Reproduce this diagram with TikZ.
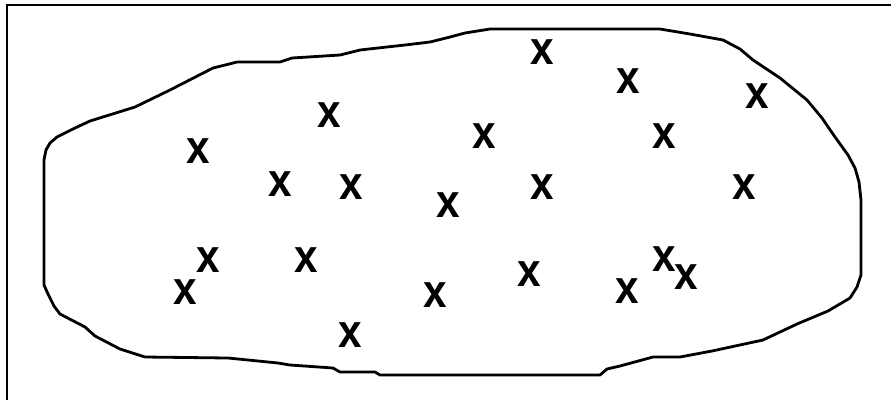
\documentclass[tikz,border=0pt]{standalone}
\usepackage{fontspec}
\setmainfont{Liberation Sans}
\begin{document}
\begin{tikzpicture}[x=1pt,y=-1pt,
  xmark/.style={inner sep=0pt,font=\fontsize{47}{47}\selectfont\bfseries,xscale=0.9},
  frame/.style={line width=2pt},
  blob/.style={line width=2.8pt,line join=round}]
\useasboundingbox (0,0) rectangle (891,400);
\draw[frame] (7,400) -- (7,4.5) -- (891,4.5);
\draw[blob] plot coordinates {
(44,160) (46,150) (50,143) (57,137) (75,128) (90,121) (135,107) (170,90) (213,68) (237,62) (280,62)
(292,58) (340,55) (360,50) (405,45) (430,42) (450,37) (465,33) (490,29) (660,29)
(690,34) (723,40) (740,49) (753,60) (780,78) (807,100) (822,118) (835,137) (848,155) (855,168) (859,182) (861,200)
(861,275) (857,287) (850,298) (828,311) (797,324) (763,340) (712,351) (680,357) (653,357)
(620,366) (607,369) (600,375) (380,375) (375,372) (340,372) (333,368) (290,365)
(278,363) (228,358) (145,357) (120,349) (95,336) (85,327) (60,314) (54,306) (48,294) (44,285)} -- cycle;
\node[xmark] (x1) at (542,52) {x};
\node[xmark] (x2) at (628,81) {x};
\node[xmark] (x3) at (757,96) {x};
\node[xmark] (x4) at (329,115) {x};
\node[xmark] (x5) at (484,136) {x};
\node[xmark] (x6) at (664,136) {x};
\node[xmark] (x7) at (198,151) {x};
\node[xmark] (x8) at (280,184) {x};
\node[xmark] (x9) at (351,187) {x};
\node[xmark] (x10) at (542,187) {x};
\node[xmark] (x11) at (744,187) {x};
\node[xmark] (x12) at (448,205) {x};
\node[xmark] (x13) at (208,260) {x};
\node[xmark] (x14) at (306,260) {x};
\node[xmark] (x15) at (664,259) {x};
\node[xmark] (x16) at (686,277) {x};
\node[xmark] (x17) at (529,274) {x};
\node[xmark] (x18) at (185,292) {x};
\node[xmark] (x19) at (435,295) {x};
\node[xmark] (x20) at (627,291) {x};
\node[xmark] (x21) at (350,335) {x};
\end{tikzpicture}
\end{document}
